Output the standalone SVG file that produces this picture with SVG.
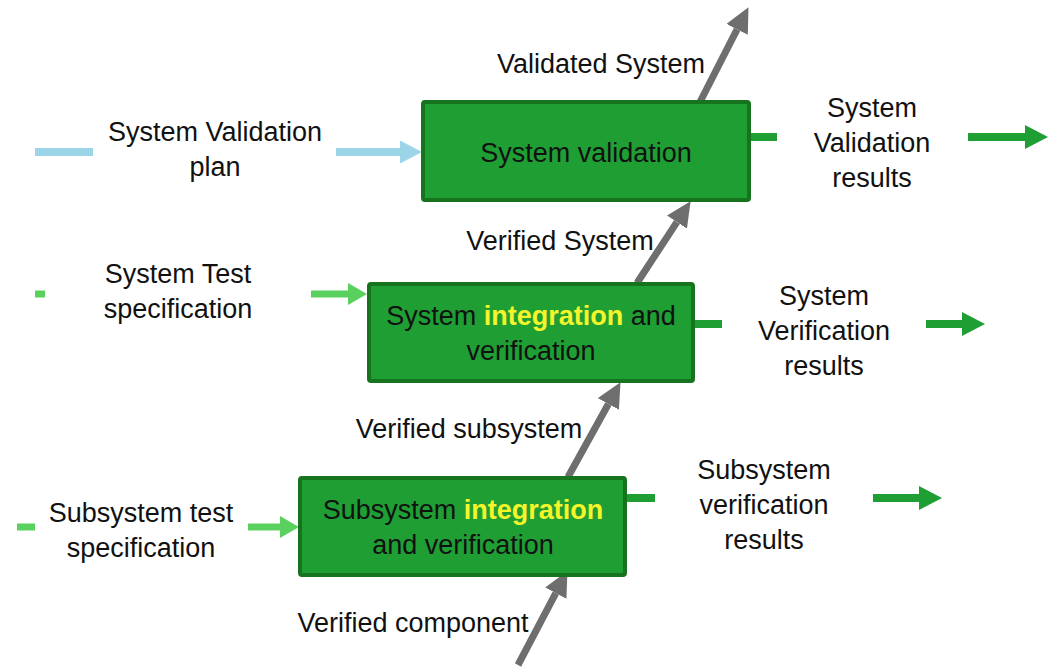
<svg xmlns="http://www.w3.org/2000/svg" width="1055" height="668" viewBox="0 0 1055 668">
<defs>
<style>
.t{font-family:"Liberation Sans",Arial,sans-serif;font-size:27px;fill:#111;text-anchor:middle}
.y{fill:#f5f52a;font-weight:bold}
.box{fill:#1f9e34;stroke:#16741f;stroke-width:4}
.gray{stroke:#6e6e6e;stroke-width:7;fill:none}
.blue{stroke:#9dd5e8;stroke-width:8;fill:none}
.lg{stroke:#5ad05e;stroke-width:7;fill:none}
.dg{stroke:#1f9e34;stroke-width:8;fill:none}
</style>
<marker id="hg" markerUnits="userSpaceOnUse" markerWidth="25" markerHeight="24" refX="0" refY="12" orient="auto"><path d="M0,0 L25,12 L0,24 Z" fill="#6e6e6e"/></marker>
<marker id="hb" markerUnits="userSpaceOnUse" markerWidth="22" markerHeight="24" refX="0" refY="12" orient="auto"><path d="M0,0.5 L22,12 L0,23.5 Z" fill="#9dd5e8"/></marker>
<marker id="hl" markerUnits="userSpaceOnUse" markerWidth="19" markerHeight="24" refX="0" refY="12" orient="auto"><path d="M0,1 L19,12 L0,23 Z" fill="#5ad05e"/></marker>
<marker id="hd" markerUnits="userSpaceOnUse" markerWidth="23" markerHeight="24" refX="0" refY="12" orient="auto"><path d="M0,0 L23,12 L0,24 Z" fill="#1f9e34"/></marker>
</defs>
<g id="connectors">
<path class="gray" d="M700,102 L737.1,29.4" marker-end="url(#hg)"/>
<path class="gray" d="M637,283 L676.9,222.1" marker-end="url(#hg)"/>
<path class="gray" d="M568,477 L608.4,404" marker-end="url(#hg)"/>
<path class="gray" d="M518,665 L555.8,593.2" marker-end="url(#hg)"/>
<path class="blue" d="M35,152 L93,152"/>
<path class="blue" d="M336,152 L400,152" marker-end="url(#hb)"/>
<path class="lg" d="M35,294 L45,294"/>
<path class="lg" d="M311,294 L348,294" marker-end="url(#hl)"/>
<path class="lg" d="M17,527 L35,527"/>
<path class="lg" d="M248,527 L280,527" marker-end="url(#hl)"/>
<path class="dg" d="M750,137 L777,137"/>
<path class="dg" d="M968,137 L1025,137" marker-end="url(#hd)"/>
<path class="dg" d="M694,324 L722,324"/>
<path class="dg" d="M926,324 L962,324" marker-end="url(#hd)"/>
<path class="dg" d="M627,498 L655,498"/>
<path class="dg" d="M873,498 L919,498" marker-end="url(#hd)"/>
</g>
<g id="node-system-validation">
<rect class="box" x="423" y="102" width="326" height="98" rx="2"/>
<text class="t" x="586" y="162">System validation</text>
</g>
<g id="node-system-integration">
<rect class="box" x="369" y="284" width="324" height="97" rx="2"/>
<text class="t" x="531" y="325">System <tspan class="y">integration</tspan> and</text>
<text class="t" x="531" y="360">verification</text>
</g>
<g id="node-subsystem-integration">
<rect class="box" x="300" y="478" width="325" height="97" rx="2"/>
<text class="t" x="463" y="519">Subsystem <tspan class="y">integration</tspan></text>
<text class="t" x="463" y="554">and verification</text>
</g>
<g id="labels">
<text class="t" x="215" y="141">System Validation</text>
<text class="t" x="215" y="176">plan</text>
<text class="t" x="601" y="73">Validated System</text>
<text class="t" x="872" y="117">System</text>
<text class="t" x="872" y="152">Validation</text>
<text class="t" x="872" y="187">results</text>
<text class="t" x="560" y="250">Verified System</text>
<text class="t" x="178" y="283">System Test</text>
<text class="t" x="178" y="318">specification</text>
<text class="t" x="824" y="305">System</text>
<text class="t" x="824" y="340">Verification</text>
<text class="t" x="824" y="375">results</text>
<text class="t" x="469" y="438">Verified subsystem</text>
<text class="t" x="141" y="522">Subsystem test</text>
<text class="t" x="141" y="557">specification</text>
<text class="t" x="764" y="479">Subsystem</text>
<text class="t" x="764" y="514">verification</text>
<text class="t" x="764" y="549">results</text>
<text class="t" x="413" y="632">Verified component</text>
</g>
</svg>
